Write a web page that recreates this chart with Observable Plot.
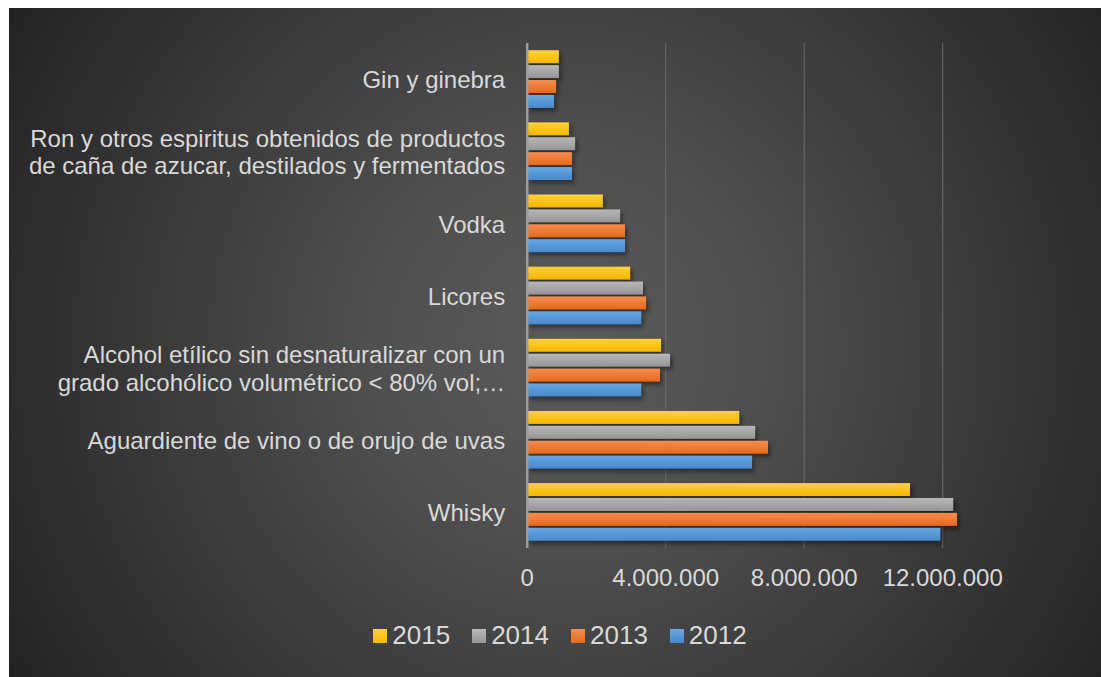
<!DOCTYPE html>
<html>
<head>
<meta charset="utf-8">
<script src="https://cdn.jsdelivr.net/npm/d3@7"></script>
<script src="https://cdn.jsdelivr.net/npm/@observablehq/plot@0.6"></script>
<style>
  html, body { margin: 0; padding: 0; background: #ffffff; }
  body { width: 1101px; height: 677px; position: relative; overflow: hidden; font-family: "Liberation Sans", Arial, sans-serif; }
  #panel { position: absolute; left: 9px; top: 8px; width: 1092px; height: 669px;
    background: radial-gradient(circle farthest-corner at 51% 50%, #5a5a5a 0%, #4f4f4f 30%, #3c3c3c 60%, #232323 100%); }
  #chart { position: absolute; left: 0; top: 0; }
  #legend { position: absolute; left: 10px; right: 0; top: 612px; display: flex; justify-content: center; align-items: center; color: #d9d9d9; font-size: 26px; }
  .item { display: flex; align-items: center; margin: 0 11px; }
  .sw { width: 14px; height: 14px; margin-right: 5px; }
</style>
</head>
<body>
<div id="panel"><div id="chart"></div><div id="legend"></div></div>
<script>
const categories = [
  "Gin y ginebra",
  "Ron y otros espiritus obtenidos de productos\nde caña de azucar, destilados y fermentados",
  "Vodka",
  "Licores",
  "Alcohol etílico sin desnaturalizar con un\ngrado alcohólico volumétrico < 80% vol;…",
  "Aguardiente de vino o de orujo de uvas",
  "Whisky"
];
const years = ["2015", "2014", "2013", "2012"];
const v2015 = [930000, 1220000, 2200000, 2990000, 3880000, 6140000, 11070000];
const v2014 = [930000, 1400000, 2700000, 3360000, 4140000, 6600000, 12320000];
const v2013 = [850000, 1310000, 2840000, 3450000, 3850000, 6970000, 12430000];
const v2012 = [790000, 1310000, 2840000, 3310000, 3310000, 6510000, 11950000];
const xTicks = [0, 4000000, 8000000, 12000000];
const gridTicks = [4000000, 8000000, 12000000];

const series = {"2015": v2015, "2014": v2014, "2013": v2013, "2012": v2012};
const rows = [];
for (const yr of years) categories.forEach((c, i) => rows.push({cat: c, year: yr, value: series[yr][i]}));

const colors = {
  "2015": ["#ffd23a", "#f2b700"],
  "2014": ["#b8b8b8", "#959595"],
  "2013": ["#f58d50", "#e56a1b"],
  "2012": ["#68a8e2", "#4689cc"]
};

const W = 1092, H = 600, mt = 35, mb = 60, ml = 517.7;
const pxPerUnit = 34.625 / 1e6;
const xMax = 13000000;
const mr = W - ml - xMax * pxPerUnit;
const padIn = 0.2, padOut = 0.1;
const step = (H - mt - mb) / (categories.length - padIn + 2 * padOut);
const bw = step * (1 - padIn);
const bh = 13;
const pitch = (bw - bh) / 3;

const fmt = d => d3.format(",")(d).replace(/,/g, ".");

const plot = Plot.plot({
  width: W, height: H,
  marginTop: mt, marginBottom: mb, marginLeft: ml, marginRight: mr,
  style: {background: "transparent", color: "#d9d9d9", fontFamily: "'Liberation Sans', Arial, sans-serif", fontSize: "24px", overflow: "visible"},
  x: {domain: [0, xMax], axis: null, label: null},
  y: {domain: categories, paddingInner: padIn, paddingOuter: padOut, round: false, axis: null, label: null},
  marks: [
    Plot.gridX(gridTicks, {stroke: "#6c6c6c", strokeOpacity: 1, strokeWidth: 1}),
    ...years.map((yr, i) => Plot.barX(rows.filter(r => r.year === yr), {
      x: "value", y: "cat", fill: `url(#grad${yr})`,
      insetTop: i * pitch, insetBottom: bw - i * pitch - bh
    })),
    Plot.ruleX([0], {stroke: "#9c9c9c", strokeWidth: 2.5}),
    Plot.axisX(xTicks, {tickSize: 0, tickPadding: 20, tickFormat: fmt, fontSize: 24, fill: "#d9d9d9", label: null}),
    Plot.axisY(categories, {tickSize: 0, tickPadding: 22, fontSize: 24, lineHeight: 1.14, fill: "#d9d9d9", textAnchor: "end", label: null})
  ]
});

const ns = "http://www.w3.org/2000/svg";
const defs = document.createElementNS(ns, "defs");
for (const yr of years) {
  const g = document.createElementNS(ns, "linearGradient");
  g.setAttribute("id", "grad" + yr);
  g.setAttribute("x1", "0"); g.setAttribute("y1", "0"); g.setAttribute("x2", "0"); g.setAttribute("y2", "1");
  [[0, colors[yr][0]], [1, colors[yr][1]]].forEach(([o, c]) => {
    const s = document.createElementNS(ns, "stop");
    s.setAttribute("offset", o); s.setAttribute("stop-color", c);
    g.appendChild(s);
  });
  defs.appendChild(g);
}
plot.insertBefore(defs, plot.firstChild);
plot.querySelectorAll('g[aria-label="bar"]').forEach(g => {
  g.style.filter = "drop-shadow(2px 3px 2px rgba(0,0,0,0.45))";
});
document.getElementById("chart").appendChild(plot);

const legend = document.getElementById("legend");
for (const yr of years) {
  const item = document.createElement("div");
  item.className = "item";
  const sw = document.createElement("div");
  sw.className = "sw";
  sw.style.background = `linear-gradient(${colors[yr][0]}, ${colors[yr][1]})`;
  const t = document.createElement("span");
  t.textContent = yr;
  item.appendChild(sw); item.appendChild(t);
  legend.appendChild(item);
}
</script>
</body>
</html>
